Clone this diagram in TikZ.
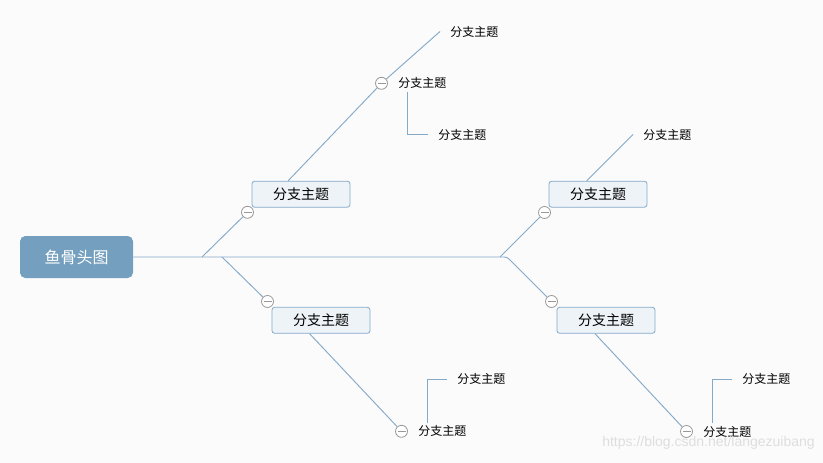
\documentclass[tikz,border=0pt]{standalone}
\usepackage{fontspec}
\newfontfamily\cjk{Noto Sans CJK SC}
\setsansfont{Liberation Sans}
\usetikzlibrary{positioning}
\definecolor{bgcol}{HTML}{FBFBFB}
\definecolor{bonecol}{HTML}{84AACA}
\definecolor{rootcol}{HTML}{749FBF}
\definecolor{topicfill}{HTML}{EEF3F7}
\definecolor{foldcol}{HTML}{999999}

\tikzset{
  bone/.style={draw=bonecol, line width=0.7pt},
  rootbox/.style={rounded corners=4pt, fill=rootcol, text=white,
    font=\cjk\fontsize{12}{14}\selectfont, minimum width=84.75pt, minimum height=31.5pt},
  topicbox/.style={draw=bonecol, fill=topicfill, rounded corners=2pt, line width=0.6pt,
    font=\cjk\fontsize{10.5}{12}\selectfont, minimum width=73.5pt, minimum height=19.5pt},
  subtopic/.style={anchor=west, inner xsep=7.5pt, inner ysep=2pt,
    font=\cjk\fontsize{9}{11}\selectfont},
  fold/.style={circle, draw=foldcol, fill=white, line width=0.6pt, minimum size=9pt, inner sep=0pt,
    path picture={\draw[foldcol, line width=0.6pt]
      ([xshift=-3pt]path picture bounding box.center) -- ([xshift=3pt]path picture bounding box.center);}}
}

\begin{document}
\begin{tikzpicture}[x=0.75pt, y=-0.75pt]
  % background
  \fill[bgcol] (0,0) rectangle (823,463);
  \useasboundingbox (0,0) rectangle (823,463);

  % head
  \node[rootbox] (root) at (76.5,257) {鱼骨头图};

  % spine joints
  \coordinate (j1) at (202,257);
  \coordinate (j2) at (222,257);
  \coordinate (j3) at (500,257);
  \coordinate (j4) at (507,257);

  % main topics
  \node[topicbox] (bUL) at (301,194.2) {分支主题};
  \node[topicbox] (bUR) at (598,194.2) {分支主题};
  \node[topicbox] (bLL) at (321,320.3) {分支主题};
  \node[topicbox] (bLR) at (606,320.3) {分支主题};

  % fold markers
  \node[fold] (fUL) at (247.5,212.3) {};
  \node[fold] (fUR) at (544.5,212.5) {};
  \node[fold] (fLL) at (267.5,301.5) {};
  \node[fold] (fLR) at (551.5,301.5) {};
  \node[fold] (fT)  at (381.5,83.3) {};
  \node[fold] (fB1) at (401.5,431.3) {};
  \node[fold] (fB2) at (686.5,431.5) {};

  % sub topics
  \node[subtopic] (lTT) at (440,31.5) {分支主题};
  \node[subtopic] (lT)  at (388,83.3) {分支主题};
  \node[subtopic] (lTs) at (428,134.5) {分支主题};
  \node[subtopic] (lUR) at (633,134.5) {分支主题};
  \node[subtopic] (lB1) at (408,431.3) {分支主题};
  \node[subtopic] (lB1s) at (447,379.3) {分支主题};
  \node[subtopic] (lB2) at (693,431.5) {分支主题};
  \node[subtopic] (lB2s) at (732,379.3) {分支主题};

  % spine and bones
  \draw[bone, rounded corners=2pt] (root.east) -- (j4) -- (fLR);
  \draw[bone] (j1) -- (fUL);
  \draw[bone] (j2) -- (fLL);
  \draw[bone] (j3) -- (fUR);

  % bones beyond the main topics
  \draw[bone] ([xshift=27.4pt]bUL.north west) -- (fT) -- (lTT.west);
  \draw[bone] ([xshift=28.5pt]bUR.north west) -- (lUR.west);
  \draw[bone] ([xshift=28.5pt]bLL.south west) -- (fB1);
  \draw[bone] ([xshift=28.8pt]bLR.south west) -- (fB2);

  % elbows to sub topics
  \draw[bone] ([xshift=14.25pt]lT.south west) |- (lTs.west);
  \draw[bone] ([xshift=14.5pt]lB1.north west) |- (lB1s.west);
  \draw[bone] ([xshift=14.5pt]lB2.north west) |- (lB2s.west);

  % watermark
  \node[anchor=east, text=black!13, font=\sffamily\fontsize{10.5}{12}\selectfont, inner sep=0pt]
    (mark) at (815,443) {https://blog.csdn.net/langezuibang};
\end{tikzpicture}
\end{document}
